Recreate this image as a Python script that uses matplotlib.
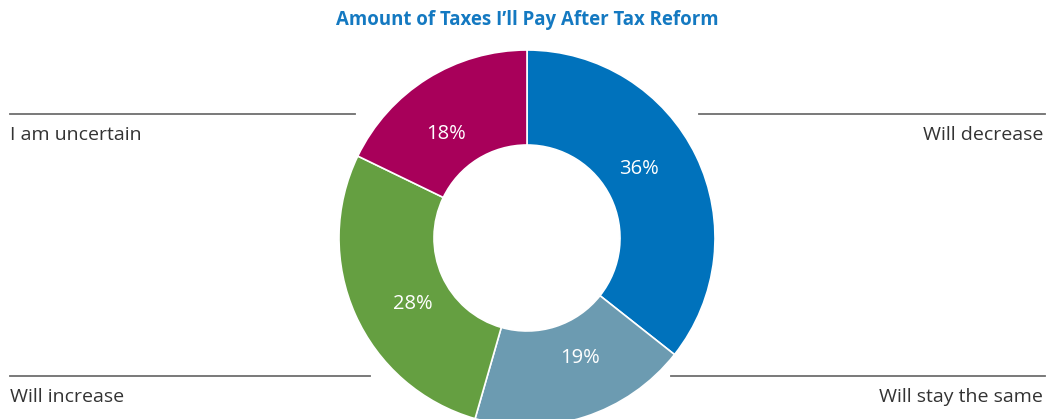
import matplotlib
matplotlib.use("Agg")
import numpy as np
import matplotlib.pyplot as plt

plt.rcParams["font.family"] = ["Open Sans", "DejaVu Sans"]

title = "Amount of Taxes I\u2019ll Pay After Tax Reform"
categories = ["Will decrease", "Will stay the same", "Will increase", "I am uncertain"]
values = [36, 19, 28, 18]
colors = ["#0072BC", "#6C9BB1", "#659F41", "#A8005A"]

W, H = 1047, 419
fig = plt.figure(figsize=(W / 100, H / 100), dpi=100)
ax = fig.add_axes([0, 0, 1, 1])

# donut, centre and radius in pixel units
cx, cy, r_out, r_in = 527, H - 238, 188, 93
wedges, _ = ax.pie(
    values, colors=colors, startangle=90, counterclock=False,
    center=(cx, cy), radius=r_out, frame=True,
    wedgeprops=dict(width=r_out - r_in, edgecolor="white", linewidth=1.2),
)
ax.set_xlim(0, W)
ax.set_ylim(0, H)
ax.set_aspect("equal")
ax.axis("off")

# percent labels inside the ring (placed a little ahead of the slice middle)
for w, v in zip(wedges, values):
    ang = np.deg2rad((w.theta1 + w.theta2) / 2 + 6)
    r = 0.7 * r_out
    ax.text(cx + r * np.cos(ang), cy + r * np.sin(ang), f"{v}%",
            ha="center", va="center", color="white", fontsize=14.5)

ax.text(cx, H - 20, title, ha="center", va="center", fontsize=13.4,
        fontweight="bold", color="#1479C1")

# corner labels with rule lines above them
line_kw = dict(color="#6E6E6E", linewidth=1.3)
lab_kw = dict(fontsize=14, color="#333333", va="center")
label_pos = {
    "I am uncertain": ((10, 355), 114, 10, "left"),
    "Will decrease": ((699, 1045), 114, 1043, "right"),
    "Will increase": ((10, 370), 376, 10, "left"),
    "Will stay the same": ((671, 1045), 376, 1043, "right"),
}
for name in categories:
    (x0, x1), ly, tx, ha = label_pos[name]
    ax.plot([x0, x1], [H - ly, H - ly], **line_kw)
    ax.text(tx, H - ly - 21, name, ha=ha, **lab_kw)

fig.savefig("out.png", dpi=100)
